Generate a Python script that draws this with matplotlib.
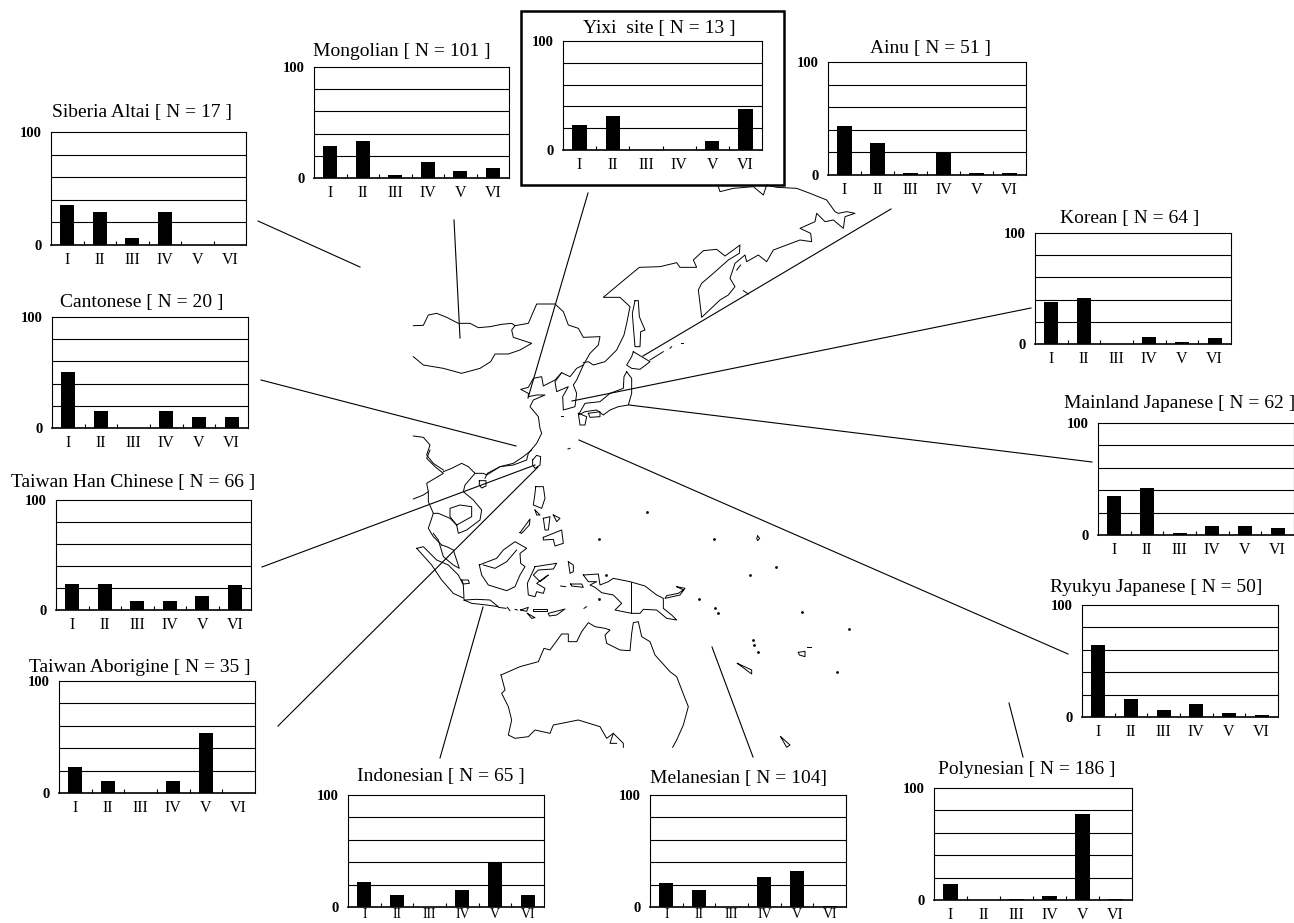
import matplotlib
matplotlib.use('Agg')
import matplotlib.pyplot as plt

W, H = 1294, 923
plt.rcParams['font.family'] = ['Liberation Serif', 'DejaVu Serif']

types = ['I', 'II', 'III', 'IV', 'V', 'VI']

# percentages
siberia = [35, 29, 6, 29, 0, 0]
mongolian = [29, 33, 3, 14, 6, 9]
yixi = [23, 31, 0, 0, 8, 38]
ainu = [43, 28, 2, 20, 2, 2]
korean = [38, 41, 0, 6, 2, 5]
cantonese = [50, 15, 0, 15, 10, 10]
mainland = [35, 42, 2, 8, 8, 6]
han = [24, 24, 8, 8, 13, 23]
ryukyu = [64, 16, 6, 12, 4, 2]
aborigine = [23, 11, 0, 11, 54, 0]
indonesian = [22, 11, 0, 15, 40, 11]
melanesian = [21, 15, 0, 27, 32, 1]
polynesian = [14, 0, 1, 4, 77, 1]

# title, values, left, right, top, bottom, title x, title y (pixels)
panels = [
    ('Siberia Altai [ N = 17 ]', siberia, 51, 246, 132, 245, 142, 113),
    ('Mongolian [ N = 101 ]', mongolian, 314, 509, 67, 178, 402, 51),
    ('Yixi  site [ N = 13 ]', yixi, 563, 762, 41, 150, 659, 28),
    ('Ainu [ N = 51 ]', ainu, 828, 1026, 62, 175, 930, 49),
    ('Korean [ N = 64 ]', korean, 1035, 1231, 233, 344, 1130, 218),
    ('Cantonese [ N = 20 ]', cantonese, 52, 248, 317, 428, 142, 302),
    ('Mainland Japanese [ N = 62 ]', mainland, 1098, 1294, 423, 535, 1180, 404),
    ('Taiwan Han Chinese [ N = 66 ]', han, 56, 251, 500, 610, 133, 482),
    ('Ryukyu Japanese [ N = 50]', ryukyu, 1082, 1278, 605, 717, 1156, 587),
    ('Taiwan Aborigine [ N = 35 ]', aborigine, 59, 255, 681, 793, 140, 667),
    ('Indonesian [ N = 65 ]', indonesian, 348, 544, 795, 907, 441, 777),
    ('Melanesian [ N = 104]', melanesian, 650, 846, 795, 907, 739, 778),
    ('Polynesian [ N = 186 ]', polynesian, 934, 1132, 788, 900, 1027, 769),
]

leaders = [
    [(258, 221), (360, 267)], [(454, 220), (460, 338)], [(588, 193), (528, 398)],
    [(891, 209), (643, 356)], [(1031, 308), (572, 401)], [(1092, 462), (629, 405)],
    [(261, 380), (516, 446)], [(1068, 654), (579, 440)], [(262, 567), (535, 465)],
    [(278, 726), (538, 467)], [(440, 758), (483, 607)], [(753, 757), (712, 647)],
    [(1023, 757), (1009, 703)],
]

# coastlines traced on the zoom crops, north part then south part
north_map = [
    [(40, 437), (70, 436), (85, 405), (110, 400), (140, 412), (175, 430), (210, 430), (235, 443), (270, 440),
     (305, 433), (335, 430), (345, 437), (385, 430), (400, 395), (410, 372), (465, 372), (490, 395), (505, 435),
     (535, 445), (550, 472), (600, 470), (595, 495), (570, 520), (550, 555), (530, 565), (510, 590), (485, 578),
     (465, 600), (430, 618), (425, 590), (400, 595), (385, 622), (362, 628), (385, 640), (385, 650), (410, 645),
     (435, 645), (400, 660), (390, 680), (415, 710), (420, 745), (425, 760), (410, 790), (385, 820), (380, 840),
     (340, 855), (300, 860), (262, 880), (255, 895)],
    [(345, 437), (335, 450), (340, 472), (395, 490), (360, 510), (325, 522), (285, 522), (272, 545), (240, 565),
     (185, 580), (130, 565), (70, 555), (40, 530)],
    [(550, 548), (565, 545), (580, 555), (615, 545), (650, 510), (672, 465), (680, 430), (690, 380), (660, 352),
     (610, 352), (660, 310), (718, 262), (780, 260), (830, 248), (840, 262), (890, 262), (880, 240), (910, 212),
     (950, 208), (975, 228), (1000, 210), (1020, 195), (1018, 220), (985, 240), (940, 280), (905, 310), (895, 330),
     (900, 370), (905, 412), (960, 360), (985, 345), (1005, 320), (990, 295), (1005, 250), (1035, 225), (1040, 245),
     (1075, 225), (1100, 245), (1120, 210), (1160, 195), (1200, 180), (1235, 185), (1232, 160), (1200, 145),
     (1245, 125), (1250, 100), (1275, 125), (1300, 120), (1330, 145), (1335, 110), (1365, 100), (1340, 95),
     (1315, 100), (1305, 95), (1280, 60), (1230, 40), (1190, 25), (1130, 22), (1100, 15), (1090, 45), (1060, 20),
     (1000, 25), (960, 35), (955, 20)],
    [(705, 362), (715, 362), (718, 410), (735, 450), (722, 455), (720, 500), (705, 500), (700, 440), (697, 400),
     (705, 362)],
    [(550, 555), (530, 600), (520, 615), (530, 640), (525, 680), (490, 690), (488, 650), (505, 620), (470, 635),
     (465, 605), (485, 578)],
    [(700, 515), (725, 530), (750, 545), (720, 568), (695, 565), (680, 555), (695, 530), (700, 515)],
    [(680, 575), (695, 595), (695, 640), (685, 675), (655, 680), (630, 690), (610, 705), (590, 690), (555, 695),
     (535, 705), (555, 670), (600, 665), (630, 640), (670, 625), (672, 590), (680, 575)],
    [(535, 700), (560, 710), (555, 735), (540, 735), (535, 700)],
    [(565, 700), (600, 695), (600, 710), (570, 712), (565, 700)],
    [(750, 540), (790, 515)], [(810, 505), (815, 500)], [(843, 490), (848, 490)],
    [(1010, 270), (1022, 255)], [(1030, 332), (1045, 342)],
    [(483, 707), (489, 707)], [(504, 807), (510, 805)],
    [(40, 768), (70, 772), (90, 795), (80, 825), (100, 850), (130, 870)],
]

south_map = [
    [(90, 0), (80, 25), (105, 50), (130, 70), (80, 100), (85, 125), (70, 135), (40, 147)],
    [(130, 65), (155, 55), (185, 40), (205, 50), (225, 70), (250, 70), (260, 75), (300, 50), (340, 40), (370, 20),
     (395, 0)],
    [(225, 70), (195, 105), (190, 125), (220, 150), (245, 180), (240, 210), (200, 240), (175, 250), (170, 225),
     (215, 200), (215, 170), (180, 165), (150, 175), (150, 200), (170, 225)],
    [(238, 92), (258, 92), (258, 108), (245, 114), (238, 105), (238, 92)],
    [(398, 30), (410, 16), (422, 20), (420, 45), (405, 55), (398, 45), (398, 30)],
    [(85, 125), (85, 155), (100, 190), (85, 235), (100, 260), (125, 285)],
    [(100, 190), (115, 190), (150, 205), (170, 225)],
    [(100, 250), (115, 270), (130, 320), (160, 345), (178, 355), (160, 300), (140, 290), (125, 285)],
    [(407, 110), (430, 110), (435, 145), (425, 175), (400, 165), (405, 130), (407, 110)],
    [(405, 180), (420, 195), (410, 195), (405, 180)],
    [(430, 205), (450, 200), (445, 240), (435, 240), (430, 205)],
    [(460, 195), (480, 205), (470, 215), (460, 195)],
    [(430, 262), (460, 250), (485, 240), (490, 280), (465, 288), (460, 268), (430, 270), (430, 262)],
    [(360, 248), (390, 207), (388, 225), (365, 250), (360, 248)],
    [(238, 345), (250, 340), (290, 325), (310, 300), (345, 275), (380, 295), (360, 310), (362, 340), (375, 350),
     (360, 375), (345, 410), (320, 422), (265, 405), (245, 375), (238, 345)],
    [(250, 345), (285, 355), (320, 335), (350, 300)],
    [(405, 350), (470, 340), (460, 357), (415, 360), (400, 375), (420, 395), (445, 375), (410, 400), (435, 415),
     (430, 430), (410, 425), (405, 440), (385, 435), (382, 400), (405, 350)],
    [(505, 335), (520, 345), (520, 365), (510, 370), (505, 335)],
    [(50, 295), (70, 290), (95, 315), (110, 330), (145, 345), (175, 375), (190, 405), (192, 445), (160, 430),
     (125, 390), (95, 345), (50, 295)],
    [(185, 390), (205, 390), (208, 400), (190, 402), (185, 390)],
    [(192, 450), (230, 448), (270, 450), (295, 470), (260, 465), (215, 460), (192, 450)],
    [(295, 472), (318, 475)], [(322, 472), (330, 482)], [(345, 478), (352, 480)],
    [(362, 480), (385, 472), (380, 484), (362, 480)],
    [(398, 478), (440, 478), (440, 484), (398, 484), (398, 478)],
    [(382, 490), (405, 503), (395, 505), (382, 490)],
    [(445, 490), (495, 477), (470, 495), (448, 498), (445, 490)],
    [(512, 402), (545, 402), (550, 412), (515, 408), (512, 402)],
    [(482, 408), (497, 410)], [(552, 475), (560, 470)],
    [(550, 375), (595, 372), (600, 405), (625, 395), (640, 385), (690, 395), (735, 408), (770, 435), (790, 445),
     (790, 475), (815, 495), (830, 510), (800, 505), (770, 480), (730, 478), (720, 490), (695, 490), (645, 480),
     (665, 460), (640, 435), (605, 428), (585, 412), (570, 405), (590, 395), (565, 395), (550, 375)],
    [(692, 395), (692, 490)],
    [(830, 410), (855, 415), (840, 435), (795, 445), (800, 437), (835, 430), (850, 420), (830, 410)],
    [(1073, 258), (1079, 265), (1073, 272), (1070, 265), (1073, 258)],
    [(1195, 607), (1215, 604), (1215, 620), (1198, 615), (1195, 607)],
    [(1220, 592), (1232, 592)],
    [(1012, 640), (1055, 660), (1055, 672), (1012, 640)],
    [(1142, 860), (1170, 885), (1160, 892), (1142, 860)],
    [(303, 675), (360, 650), (415, 635), (432, 595), (450, 600), (485, 552), (505, 552), (505, 575), (530, 575),
     (545, 545), (565, 518), (585, 530), (615, 535), (630, 540), (615, 555), (620, 580), (660, 600), (690, 602),
     (695, 550), (700, 518), (715, 515), (725, 560), (750, 575), (765, 615), (810, 665), (830, 680), (855, 745),
     (865, 770), (850, 825), (830, 870), (818, 892)],
    [(303, 675), (315, 720), (305, 730), (325, 770), (335, 810), (325, 855), (345, 865), (385, 860), (405, 840),
     (450, 850), (460, 825), (535, 810), (600, 830), (620, 865), (640, 850), (670, 880), (670, 892)],
    [(640, 850), (630, 880), (650, 880)],
]
south_islets = [(742, 185), (596, 268), (943, 268), (1127, 352), (1050, 375), (1207, 485), (1348, 537), (1311, 667),
                (598, 448), (618, 375), (1075, 605), (1060, 570), (1062, 585), (898, 447), (945, 475), (955, 488)]

fig = plt.figure(figsize=(W / 100, H / 100), dpi=100)

# whole figure axes in pixels for the map, the leader lines and the titles
base = fig.add_axes([0, 0, 1, 1])
base.set_xlim(0, W)
base.set_ylim(H, 0)
base.axis('off')

for line in north_map:
    base.plot([400 + p[0] / 3 for p in line], [180 + p[1] / 3 for p in line], color='black', lw=0.7)
for line in south_map:
    base.plot([400 + p[0] / 3 for p in line], [450 + p[1] / 3 for p in line], color='black', lw=0.7)
base.scatter([400 + p[0] / 3 for p in south_islets], [450 + p[1] / 3 for p in south_islets],
             s=4, color='black', linewidths=0)

for line in leaders:
    base.plot([line[0][0], line[1][0]], [line[0][1], line[1][1]], color='black', lw=0.8)

# box round the Yixi site panel
base.add_patch(plt.Rectangle((521, 11), 263, 174, fill=False, edgecolor='black', lw=1.8))

for title, values, left, right, top, bottom, tx, ty in panels:
    ax = fig.add_axes([left / W, 1 - bottom / H, (right - left) / W, (bottom - top) / H])
    ax.bar(range(6), values, width=0.43, color='black', zorder=3)
    ax.set_xlim(-0.5, 5.5)
    ax.set_ylim(0, 100)
    for g in [20, 40, 60, 80]:
        ax.axhline(g, color='black', lw=0.8, zorder=1)
    ax.set_yticks([0, 100])
    ax.set_yticklabels(['0', '100'], fontsize=10.5, fontweight='bold')
    ax.set_xticks(range(6))
    # the two lowest panels sit right on the bottom edge
    low = bottom > 905
    ax.set_xticklabels(types, fontsize=10 if low else 11.5)
    ax.tick_params(axis='x', which='major', length=0, pad=0.5 if low else 5)
    ax.tick_params(axis='y', which='major', length=0, pad=7)
    ax.set_xticks([0.5, 1.5, 2.5, 3.5, 4.5], minor=True)
    ax.tick_params(axis='x', which='minor', direction='in', length=3, width=0.8)
    for s in ax.spines.values():
        s.set_linewidth(0.8)
    ax.spines['bottom'].set_linewidth(1.2)
    base.text(tx, ty, title, fontsize=14, ha='center', va='center', color='black')

fig.savefig('out.png', dpi=100, facecolor='white')
